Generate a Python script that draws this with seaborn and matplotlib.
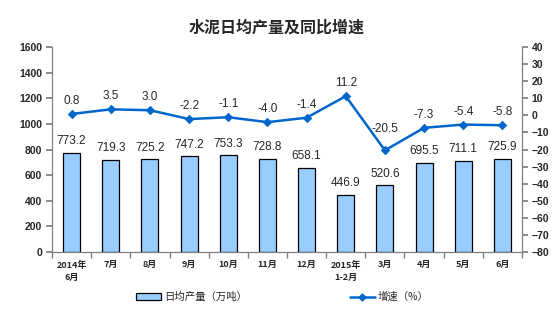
import matplotlib
matplotlib.use("Agg")
import matplotlib.pyplot as plt
import seaborn as sns
import pandas as pd
from matplotlib.patches import Patch
from matplotlib.lines import Line2D

categories = ["2014年\n6月", "7月", "8月", "9月", "10月", "11月", "12月",
              "2015年\n1-2月", "3月", "4月", "5月", "6月"]
output = [773.2, 719.3, 725.2, 747.2, 753.3, 728.8, 658.1, 446.9, 520.6, 695.5, 711.1, 725.9]
growth = [0.8, 3.5, 3.0, -2.2, -1.1, -4.0, -1.4, 11.2, -20.5, -7.3, -5.4, -5.8]
bar_label = "日均产量（万吨）"
line_label = "增速（%）"
title = "水泥日均产量及同比增速"

sns.set_theme(style="white")
plt.rcParams['font.family'] = ['Liberation Sans', 'Noto Sans CJK SC', 'DejaVu Sans']

df = pd.DataFrame({"cat": categories, "output": output, "growth": growth})

fig = plt.figure(figsize=(5.54, 3.27), dpi=100)
ax = fig.add_axes([52/554, 1-252/327, (522-52)/554, (252-47)/327])

sns.barplot(data=df, x="cat", y="output", ax=ax, color="#99CCFF", width=0.43,
            edgecolor="black", linewidth=0.9, saturation=1)
ax.set_ylim(0, 1600)
ax.set_yticks(range(0, 1601, 200))
ax.set_xlim(-0.5, len(categories) - 0.5)

ax2 = ax.twinx()
sns.pointplot(data=df, x="cat", y="growth", ax=ax2, color="#0066CC", markers="D",
              markersize=3.5, linewidth=1.8)
ax2.set_ylim(-80, 40)
ax2.set_yticks(range(-80, 41, 10))
ax2.set_xlim(-0.5, len(categories) - 0.5)

for a in (ax, ax2):
    a.set_xlabel("")
    a.set_ylabel("")
    a.spines["top"].set_visible(False)
    for s in ("left", "right", "bottom"):
        a.spines[s].set_color("#808080")
        a.spines[s].set_linewidth(0.9)

ax.spines["right"].set_visible(False)
ax2.spines["left"].set_visible(False)
ax2.spines["bottom"].set_visible(False)

ax.set_xticks(range(len(categories)))
ax.set_xticklabels(categories, fontsize=6.5, fontweight="bold", linespacing=1.5,
                   family=['Noto Sans CJK SC', 'DejaVu Sans'])
ax.tick_params(axis="x", length=0, pad=6)
ax.set_xticks([i + 0.5 for i in range(-1, len(categories))], minor=True)
ax.tick_params(axis="x", which="minor", length=4, color="#808080", direction="out", bottom=True)
ax.tick_params(axis="y", labelsize=7.5, length=4, color="#808080", direction="out", left=True, pad=3)
ax2.tick_params(axis="y", labelsize=7.5, length=4, color="#808080", direction="out", right=True, pad=3)
for lab in ax.get_yticklabels() + ax2.get_yticklabels():
    lab.set_fontweight("bold")

for i, v in enumerate(output):
    ax.annotate(f"{v:.1f}", (i, v), xytext=(0, 4), textcoords="offset points",
                ha="center", va="bottom", fontsize=8.5)
for i, v in enumerate(growth):
    off = 11 if i == 8 else 5
    ax2.annotate(f"{v:.1f}", (i, v), xytext=(0, off), textcoords="offset points",
                 ha="center", va="bottom", fontsize=8.5)

for a in (ax, ax2):
    if a.get_legend() is not None:
        a.get_legend().remove()

h1 = Patch(facecolor="#99CCFF", edgecolor="black", linewidth=0.9)
h2 = Line2D([0], [0], color="#0066CC", marker="D", markersize=3.5, linewidth=1.8)
fig.legend([h1, h2], [bar_label, line_label], loc="center", bbox_to_anchor=(0.51, 1-297/327),
           ncol=2, frameon=False, columnspacing=9.8, handlelength=2.4,
           handleheight=0.6, handletextpad=0.3,
           prop={'family': ['Noto Sans CJK SC'], 'size': 7.5})

fig.text(0.5, 1-28/327, title, ha="center", va="center", fontsize=11.5, fontweight="bold",
         family=['Noto Sans CJK SC'])

fig.savefig("out.png", dpi=100)
